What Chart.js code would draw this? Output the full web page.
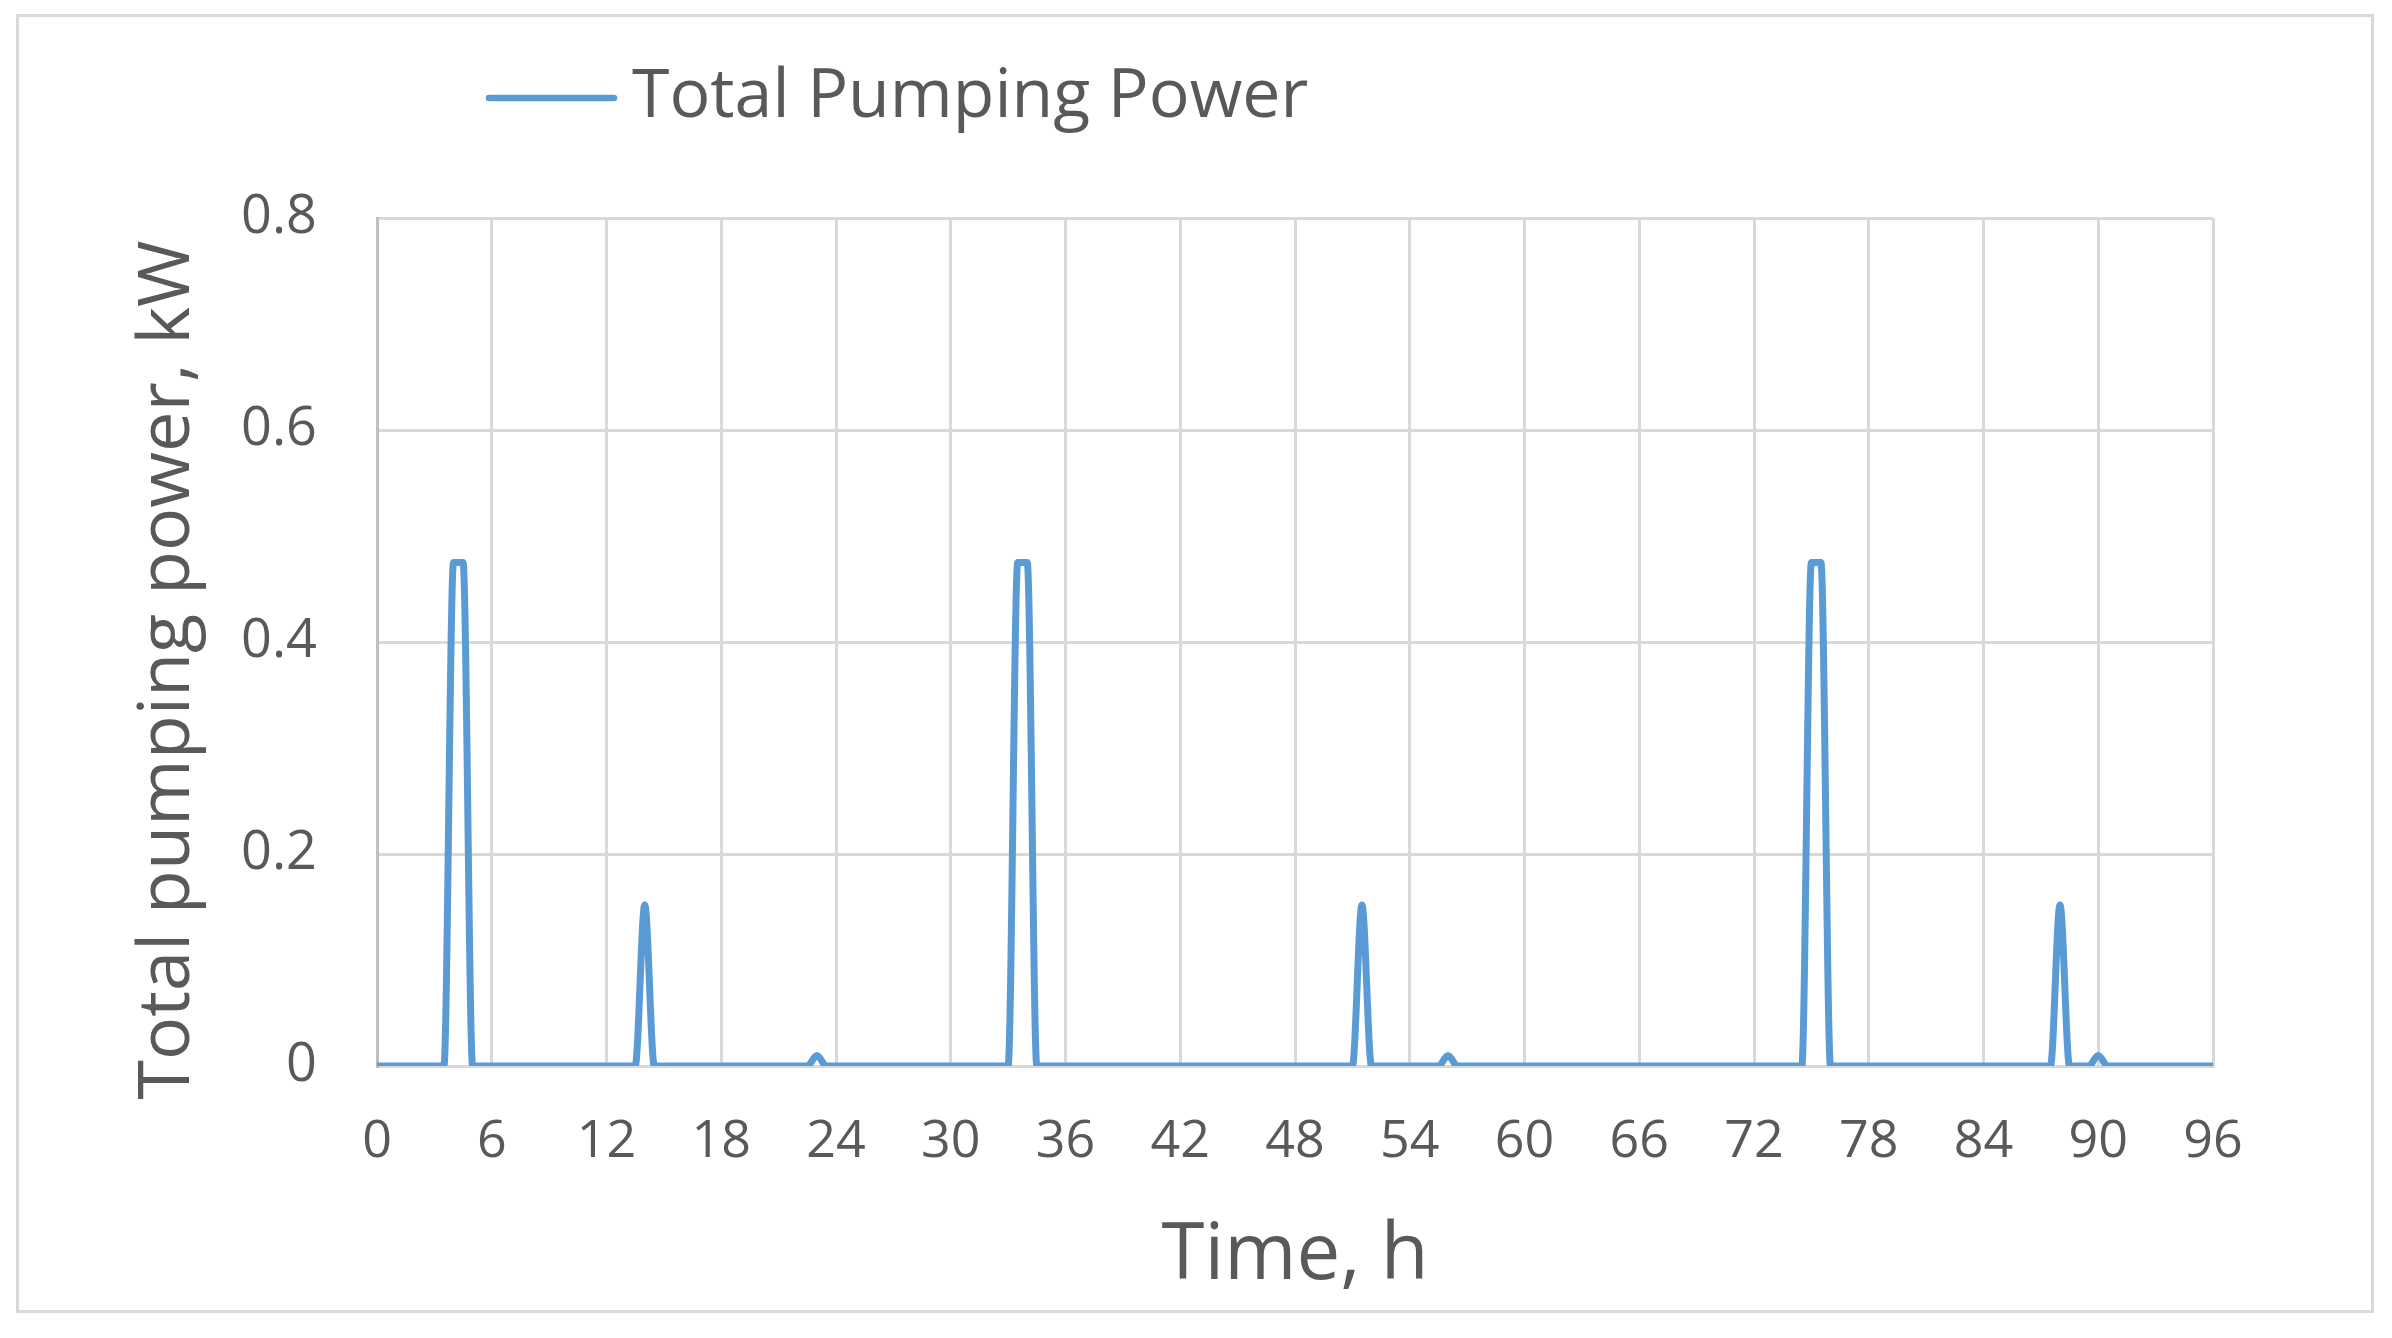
<!DOCTYPE html>
<html><head><meta charset="utf-8">
<script src="https://cdn.jsdelivr.net/npm/chart.js@4.4.1/dist/chart.umd.min.js"></script>
<style>
html,body{margin:0;padding:0;background:#fff;width:2392px;height:1338px;overflow:hidden;}
#frame{position:absolute;left:16px;top:14px;width:2352px;height:1293px;border:3px solid #D9D9D9;background:#fff;}
canvas{display:block;}
</style></head><body>
<div id="frame"><canvas id="c" width="2352" height="1293"></canvas></div>
<script>
// ---- data ----
const seriesName = 'Total Pumping Power';
const timeH = [0, 3.5, 4, 4.5, 5, 13.5, 14, 14.5, 22.5, 23, 23.5, 33, 33.5, 34, 34.5, 51, 51.5, 52, 55.5, 56, 56.5, 74.5, 75, 75.5, 76, 87.5, 88, 88.5, 89.5, 90, 90.5, 96];
const powerKW = [0, 0, 0.475, 0.475, 0, 0, 0.152, 0, 0, 0.01, 0, 0, 0.475, 0.475, 0, 0, 0.152, 0, 0, 0.01, 0, 0, 0.475, 0.475, 0, 0, 0.152, 0, 0, 0.01, 0, 0];
const xTicks = [0, 6, 12, 18, 24, 30, 36, 42, 48, 54, 60, 66, 72, 78, 84, 90, 96];
const yTicks = [0, 0.2, 0.4, 0.6, 0.8];
const yTickLabels = ['0', '0.2', '0.4', '0.6', '0.8'];
const xTitle = 'Time, h';
const yTitle = 'Total pumping power, kW';

// ---- styles ----
const FONT = "'Open Sans', 'Noto Sans', sans-serif";
const TEXT = '#595959';
const GRID = '#D9D9D9';
const BLUE = '#5B9BD5';

const points = timeH.map((t, i) => ({x: t, y: powerKW[i]}));

const legendPlugin = {
  id: 'customLegend',
  afterDraw(chart) {
    const {ctx, chartArea} = chart;
    const x0 = chartArea.left + 112;
    const y0 = chartArea.top - 120;
    ctx.save();
    ctx.strokeStyle = BLUE;
    ctx.lineWidth = 6.5;
    ctx.lineCap = 'round';
    ctx.beginPath();
    ctx.moveTo(x0, y0);
    ctx.lineTo(x0 + 125, y0);
    ctx.stroke();
    ctx.fillStyle = TEXT;
    ctx.font = "68px " + FONT;
    ctx.textBaseline = 'middle';
    ctx.textAlign = 'left';
    ctx.fillText(seriesName, x0 + 143, y0);
    ctx.restore();
  }
};

new Chart(document.getElementById('c'), {
  type: 'line',
  data: {
    datasets: [{
      label: seriesName,
      data: points,
      borderColor: BLUE,
      backgroundColor: BLUE,
      borderWidth: 7,
      pointRadius: 0,
      cubicInterpolationMode: 'monotone',
      borderCapStyle: 'round',
      borderJoinStyle: 'round',
      fill: false
    }]
  },
  options: {
    responsive: false,
    animation: false,
    devicePixelRatio: 1,
    layout: {padding: {left: 0, top: 201, right: 158, bottom: 0}},
    plugins: {legend: {display: false}, tooltip: {enabled: false}},
    scales: {
      x: {
        type: 'linear',
        min: 0, max: 96,
        afterFit(s) { s.height = 244; },
        afterBuildTicks(s) { s.ticks = xTicks.map(v => ({value: v})); },
        grid: {color: GRID, lineWidth: 3, drawTicks: false},
        border: {color: GRID, width: 3},
        ticks: {
          padding: 45,
          color: TEXT,
          font: {family: FONT, size: 52},
          maxRotation: 0,
          autoSkip: false,
          callback: v => String(v)
        },
        title: {
          display: true, text: xTitle, color: TEXT,
          font: {family: FONT, size: 78},
          padding: {top: 0, bottom: 6}
        }
      },
      y: {
        min: 0, max: 0.8,
        afterFit(s) { s.width = 358; },
        afterBuildTicks(s) { s.ticks = yTicks.map(v => ({value: v})); },
        grid: {color: GRID, lineWidth: 3, drawTicks: false},
        border: {color: '#BFBFBF', width: 3},
        ticks: {
          padding: 60,
          color: TEXT,
          font: {family: FONT, size: 54},
          callback: (v) => { const i = yTicks.findIndex(t => Math.abs(t - v) < 1e-9); return i >= 0 ? yTickLabels[i] : ''; }
        },
        title: {
          display: true, text: yTitle + '   ', color: TEXT,
          font: {family: FONT, size: 72},
          padding: {top: 106, bottom: 0}
        }
      }
    }
  },
  plugins: [legendPlugin]
});
</script>
</body></html>
